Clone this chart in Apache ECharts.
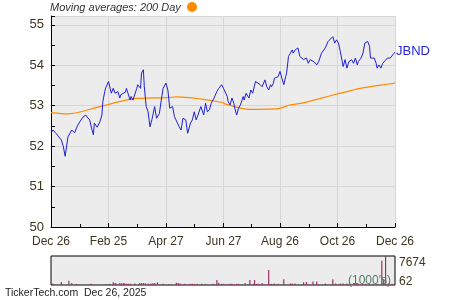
<!DOCTYPE html>
<html><head><meta charset="utf-8">
<script src="https://cdn.jsdelivr.net/npm/echarts@6/dist/echarts.min.js"></script>
<style>html,body{margin:0;padding:0;background:#fff}#c{width:450px;height:300px}</style>
</head><body><div id="c"></div>
<script>
// x positions are calendar days since Dec 26, 2024
const tickDays = [0, 61, 122, 183, 243, 304, 365];
const tickLabels = ['Dec 26', 'Feb 25', 'Apr 27', 'Jun 27', 'Aug 26', 'Oct 26', 'Dec 26'];
const monthDays = [0, 31, 61, 91, 122, 152, 183, 213, 243, 274, 304, 335, 365];
const priceTicks = [50, 51, 52, 53, 54, 55];

const priceDays = [0,2,6,11,13,15,17,18,22,25,28,31,34,37,39,41,43,45,46,49,52,54,55,57,58,61,62,64,66,68,69,71,73,74,76,79,80,82,84,85,87,89,91,92,95,96,98,99,101,103,105,107,110,112,115,117,119,122,124,126,129,131,133,136,138,140,143,145,148,150,152,154,156,159,162,164,166,168,170,171,173,176,178,181,183,185,187,188,190,192,194,195,197,199,201,204,205,207,210,212,214,217,219,222,224,225,227,229,231,233,234,236,237,239,241,243,245,247,249,250,252,254,256,257,259,262,264,266,268,271,273,275,279,282,284,286,287,291,293,294,296,299,301,303,305,307,309,310,312,314,316,319,321,323,325,326,329,331,333,336,338,339,341,343,345,346,348,350,352,354,357,358,360,362,364,365];
const priceValues = [52.32,52.40,52.30,52.15,52.00,51.75,51.75,52.23,52.40,52.33,52.50,52.62,52.72,52.77,52.70,52.65,52.45,52.28,52.57,52.47,52.61,52.77,53.10,53.35,53.44,53.60,53.56,53.31,53.43,53.31,53.27,53.35,53.19,53.27,53.23,53.34,53.43,53.39,53.14,53.23,53.14,53.14,53.43,53.52,53.43,53.81,53.89,53.47,52.98,52.85,52.48,52.65,52.98,52.69,52.81,53.14,53.43,53.56,53.39,52.94,52.98,52.73,52.69,52.48,52.40,52.69,52.65,52.32,52.57,52.65,52.85,52.65,52.77,52.98,52.77,53.06,52.85,52.90,53.06,53.02,53.19,53.35,53.43,53.52,53.43,53.39,53.23,53.10,53.02,53.19,53.06,52.94,52.77,52.94,53.02,53.23,53.14,53.31,53.19,53.39,53.31,53.60,53.60,53.52,53.47,53.47,53.64,53.47,53.39,53.52,53.47,53.56,53.68,53.64,53.72,53.85,53.68,53.52,53.72,53.81,54.22,54.26,54.38,54.30,54.38,54.43,54.22,54.22,54.14,54.18,54.05,54.14,54.09,54.01,54.09,54.05,54.30,54.43,54.47,54.59,54.55,54.71,54.55,54.63,54.55,54.34,54.30,53.97,54.14,53.93,54.09,54.14,54.05,54.18,54.01,54.09,54.18,54.30,54.55,54.59,54.47,54.18,54.14,54.18,54.05,53.93,54.01,53.93,54.05,54.01,54.18,54.14,54.18,54.22,54.30,54.32];

const maDays = [0,18,52,87,123,134,158,182,185,210,239,254,265,284,307,328,350,365];
const maValues = [52.83,52.80,52.98,53.17,53.20,53.22,53.17,53.08,53.04,52.91,52.92,53.02,53.06,53.17,53.31,53.43,53.51,53.56];

const volDays = [2,11,19,22,27, 42,43,58,62,66, 68,69,73,75,77, 78,80,82,84,89, 94,96,98,100,103, 106,108,110,113,119, 125,133,135,137,142, 148,150,152,155,160, 164,172,176,178,181, 183,187,190,192,197, 199,206,211,215,216, 218,220,224,231,234, 237,241,247,254,256, 259,268,271,278,282, 291,299,302,307,310, 314,318,322,326,330, 334,338,342,346,351, 353,355,358,362];
const volValues = [400,800,1100,500,300, 300,300,200,300,700, 500,400,500,450,500, 400,300,350,300,400, 500,500,500,450,400, 400,450,500,700,300, 200,600,500,400,300, 300,300,250,300,300, 300,300,1300,600,300, 300,250,300,300,300, 300,500,1300,300,1300, 300,300,500,4000,300, 400,300,1500,400,400, 400,700,800,900,900, 400,1500,400,400,400, 400,300,300,300,300, 300,300,300,300,6400, 1500,7674,400,300];
const volLabels = [62, 7674];

const FONT = '"Liberation Sans", Arial, sans-serif';
const LBL = '#3d3520';
const chart = echarts.init(document.getElementById('c'), null, {renderer: 'canvas'});
const zip = (a, b) => a.map((d, i) => [d, b[i]]);

chart.setOption({
  animation: false,
  backgroundColor: '#ffffff',
  textStyle: {fontFamily: FONT},
  grid: [
    {left: 51, top: 16, width: 344, height: 211, show: true, backgroundColor: '#ececec', borderWidth: 0, outerBoundsMode: 'none'},
    {left: 51, top: 256, width: 344, height: 29, show: true, backgroundColor: '#ececec', borderColor: '#000', borderWidth: 1, outerBoundsMode: 'none'}
  ],
  xAxis: [
    {type: 'value', gridIndex: 0, min: 0, max: 365,
     axisLine: {show: true, lineStyle: {color: '#000', width: 1}},
     axisTick: {show: true, inside: true, length: 4, customValues: tickDays, lineStyle: {color: '#000'}},
     axisLabel: {show: true, customValues: tickDays, margin: 9, color: LBL, fontSize: 12, fontFamily: FONT,
       formatter: v => { const i = tickDays.indexOf(v); return i >= 0 ? tickLabels[i] : ''; }},
     splitLine: {show: true, lineStyle: {color: '#d6d6d6', width: 1}}},
    {type: 'value', gridIndex: 0, min: 0, max: 365, position: 'bottom',
     axisLine: {show: false}, axisLabel: {show: false}, splitLine: {show: false},
     axisTick: {show: true, inside: true, length: 3, customValues: monthDays, lineStyle: {color: '#000'}}},
    {type: 'value', gridIndex: 1, min: 0, max: 365, show: false}
  ],
  yAxis: [
    {type: 'value', gridIndex: 0, min: 50, max: 55.22, interval: 1,
     axisLine: {show: true, lineStyle: {color: '#000', width: 1}},
     axisTick: {show: true, inside: true, length: 4, lineStyle: {color: '#000'}},
     minorTick: {show: true, splitNumber: 2, length: 4, lineStyle: {color: '#000'}},
     axisLabel: {customValues: priceTicks, color: LBL, fontSize: 13, margin: 7, fontFamily: FONT},
     splitLine: {show: true, lineStyle: {color: '#d6d6d6', width: 1}}},
    {type: 'value', gridIndex: 1, min: 0, max: 7674, position: 'right',
     axisLine: {show: false}, axisTick: {show: false}, splitLine: {show: false},
     axisLabel: {customValues: volLabels, margin: 4, color: LBL, fontSize: 12, fontFamily: FONT,
       formatter: v => v === volLabels[1] ? '{t|' + v + '}' : '{b|' + v + '}',
       rich: {t: {padding: [13, 0, 0, 0], fontSize: 12, color: LBL, fontFamily: FONT},
              b: {padding: [0, 0, 6, 0], fontSize: 12, color: LBL, fontFamily: FONT}}}}
  ],
  series: [
    {type: 'line', name: 'MA200', xAxisIndex: 0, yAxisIndex: 0, data: zip(maDays, maValues),
     showSymbol: false, symbol: 'none', smooth: 0.3, lineStyle: {color: '#ff8c00', width: 1.2}, z: 3},
    {type: 'line', name: 'JBND', xAxisIndex: 0, yAxisIndex: 0, data: zip(priceDays, priceValues),
     showSymbol: false, symbol: 'none', lineStyle: {color: '#1f1fd6', width: 1}, z: 4,
     endLabel: {show: true, formatter: 'JBND', color: '#1f1fd6', fontSize: 13, distance: 1, offset: [0, -1], fontFamily: FONT}},
    {type: 'bar', name: 'Volume', xAxisIndex: 2, yAxisIndex: 1, data: zip(volDays, volValues),
     barWidth: 1.2, itemStyle: {color: '#993366'}}
  ],
  graphic: [
    {type: 'text', left: 50, top: 2, style: {text: 'Moving averages: 200 Day', fontStyle: 'italic', fontSize: 11, fill: '#333', font: 'italic 11px ' + FONT}},
    {type: 'circle', shape: {cx: 192, cy: 7, r: 5}, style: {fill: '#ff8c00'}},
    {type: 'text', left: 348, top: 275, z: 10, style: {text: "(1000's)", fill: '#557a66', font: '12px ' + FONT}},
    {type: 'text', left: 5, top: 288, style: {text: 'TickerTech.com  Dec 26, 2025', fill: '#222', font: '10.5px ' + FONT}}
  ]
});
</script></body></html>
